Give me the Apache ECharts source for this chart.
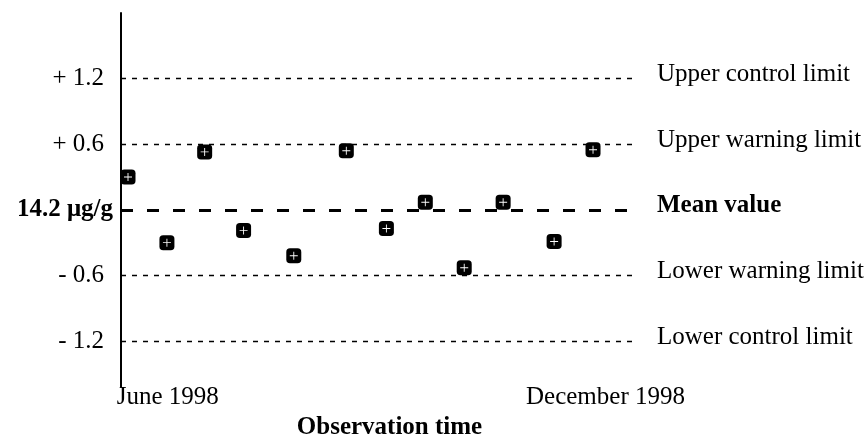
<!DOCTYPE html>
<html>
<head>
<meta charset="utf-8">
<script src="https://cdn.jsdelivr.net/npm/echarts@6/dist/echarts.min.js"></script>
<style>
  html, body { margin: 0; padding: 0; background: #fff; }
  #main { width: 868px; height: 437px; }
</style>
</head>
<body>
<div id="main"></div>
<script>
// observation time (approx. weeks from start of June 1998) and deviation from mean
var obsTime = [0.18, 1.18, 2.15, 3.15, 4.44, 5.79, 6.82, 7.82, 8.82, 9.82, 11.13, 12.13];
var obsDev  = [0.30, -0.30, 0.53, -0.19, -0.42, 0.54, -0.17, 0.07, -0.53, 0.07, -0.29, 0.55];

var yTicks  = [1.2, 0.6, 0, -0.6, -1.2];
var yLabels = ['+ 1.2', '+ 0.6', '14.2 \u03bcg/g', '- 0.6', '- 1.2'];
var xTicks  = [1.2, 12.45];
var xLabels = ['June 1998', 'December 1998'];
var limitNames = ['Upper control limit', 'Upper warning limit', 'Mean value', 'Lower warning limit', 'Lower control limit'];

var FONT = 'Liberation Serif';
var FS = 25;

var points = [];
for (var i = 0; i < obsTime.length; i++) {
    points.push([obsTime[i], obsDev[i]]);
}

var limitLines = [];
for (var k = 0; k < yTicks.length; k++) {
    var isMean = yTicks[k] === 0;
    limitLines.push({
        yAxis: yTicks[k],
        name: limitNames[k],
        lineStyle: {
            color: '#000',
            width: isMean ? 3 : 1.3,
            type: isMean ? [12, 14] : [5, 6]
        },
        label: {
            fontWeight: isMean ? 'bold' : 'normal'
        }
    });
}

var chart = echarts.init(document.getElementById('main'));
chart.setOption({
    animation: false,
    grid: { left: 121, right: 231, top: 13, bottom: 50, outerBoundsMode: 'none' },
    xAxis: {
        type: 'value',
        min: 0,
        max: 13.26,
        axisLine: { show: false },
        axisTick: { show: false },
        splitLine: { show: false },
        axisLabel: {
            customValues: xTicks,
            margin: -2,
            color: '#000',
            fontFamily: FONT,
            fontSize: FS,
            formatter: function (v) {
                var idx = xTicks.indexOf(v);
                return idx >= 0 ? xLabels[idx] : '';
            }
        },
        name: 'Observation time',
        nameLocation: 'middle',
        nameGap: 27,
        nameTextStyle: {
            color: '#000',
            fontFamily: FONT,
            fontSize: FS,
            fontWeight: 'bold',
            padding: [0, 0, 0, 21]
        }
    },
    yAxis: {
        type: 'value',
        min: -1.62,
        max: 1.8,
        axisLine: { show: true, onZero: false, lineStyle: { color: '#000', width: 2 } },
        axisTick: { show: false },
        splitLine: { show: false },
        axisLabel: {
            customValues: yTicks,
            margin: 8,
            color: '#000',
            fontFamily: FONT,
            fontSize: FS,
            formatter: function (v) {
                var idx = yTicks.indexOf(v);
                if (idx < 0) return '';
                return v === 0 ? '{b|' + yLabels[idx] + '}' : '{n|' + yLabels[idx] + '}';
            },
            rich: {
                n: { fontFamily: FONT, fontSize: FS, color: '#000', padding: [0, 9, 0, 0] },
                b: { fontFamily: FONT, fontSize: FS, color: '#000', fontWeight: 'bold' }
            }
        }
    },
    series: [
        {
            type: 'line',
            data: [],
            z: 1,
            markLine: {
                silent: true,
                symbol: 'none',
                label: {
                    show: true,
                    position: 'end',
                    distance: 20,
                    formatter: '{b}',
                    color: '#000',
                    fontFamily: FONT,
                    fontSize: FS,
                    offset: [0, -4]
                },
                data: limitLines
            }
        },
        {
            type: 'scatter',
            data: points,
            z: 3,
            symbol: 'roundRect',
            symbolSize: 15,
            itemStyle: { color: '#000', opacity: 1 }
        },
        {
            type: 'scatter',
            data: points,
            z: 4,
            symbol: 'path://M4,0h1v4h4v1h-4v4h-1v-4h-4v-1h4z',
            symbolSize: 8,
            itemStyle: { color: '#fff', opacity: 1 }
        }
    ]
});
</script>
</body>
</html>
